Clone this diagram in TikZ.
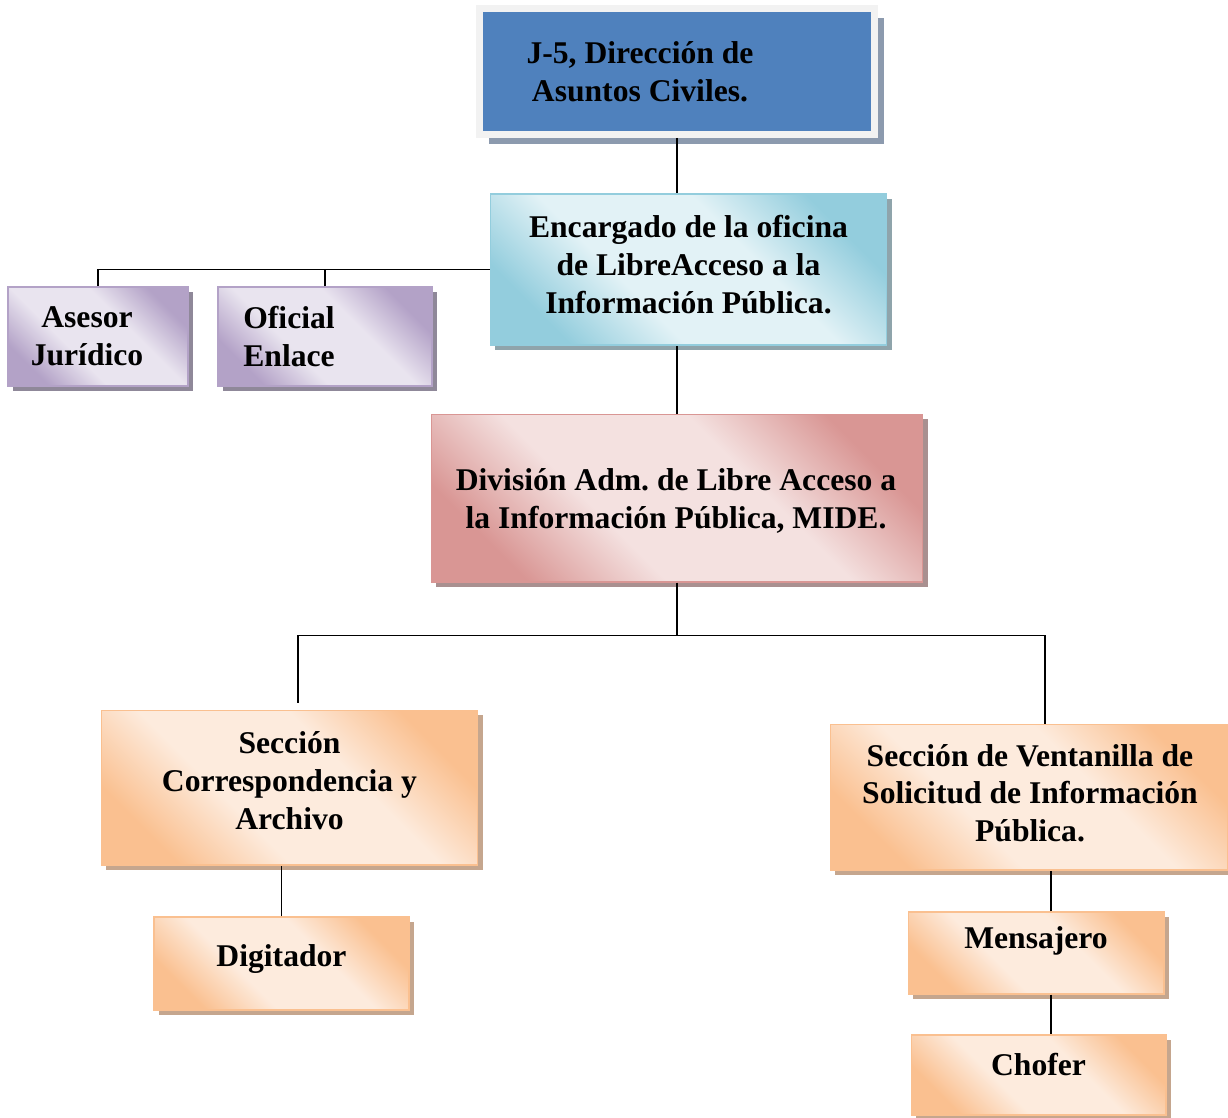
\documentclass[tikz,border=0pt]{standalone}
\usepackage{fontspec}
\setmainfont{Liberation Serif}
\frenchspacing
\usetikzlibrary{shadows}
\definecolor{jblue}{HTML}{4F81BD}
\definecolor{framegray}{HTML}{F2F2F2}
\definecolor{dirshadow}{HTML}{8C9AAE}
\definecolor{encdark}{HTML}{93CDDD}
\definecolor{enclight}{HTML}{E2F2F6}
\definecolor{encshadow}{HTML}{8FA4AB}
\definecolor{purdark}{HTML}{B3A2C7}
\definecolor{purlight}{HTML}{E9E4EF}
\definecolor{purshadow}{HTML}{8F8899}
\definecolor{pinkdark}{HTML}{D99694}
\definecolor{pinklight}{HTML}{F4E1E0}
\definecolor{pinkshadow}{HTML}{A99090}
\definecolor{orgdark}{HTML}{FAC090}
\definecolor{orglight}{HTML}{FDEBDD}
\definecolor{orgshadow}{HTML}{C5A68E}
\colorlet{shdark}{orgdark}
\colorlet{shlight}{orglight}
% soft diagonal fill: dark corners, wide light band
\pgfdeclarehorizontalshading[shdark,shlight]{officefill}{100bp}{
    color(0bp)=(shdark); color(25bp)=(shdark); color(40bp)=(shlight);
    color(60bp)=(shlight); color(75bp)=(shdark); color(100bp)=(shdark)}
\tikzset{
    orgbox/.style n args={3}{
        rectangle, draw=#1, line width=0.6pt, inner sep=0pt,
        /utils/exec={\colorlet{shdark}{#1}\colorlet{shlight}{#2}},
        shade, shading=officefill, shading angle=45,
        drop shadow={shadow xshift=0.1cm, shadow yshift=-0.1cm, fill=#3, opacity=1}
    },
    dirbox/.style={
        rectangle, fill=jblue, draw=framegray, line width=0.14cm, inner sep=0pt,
        drop shadow={shadow xshift=0.19cm, shadow yshift=-0.19cm, fill=dirshadow, opacity=1}
    },
    txt/.style={font=\bfseries\fontsize{18}{21.5}\selectfont, align=center, text=black},
    conn/.style={line width=1pt, black},
}
\begin{document}
\begin{tikzpicture}[x=0.02cm,y=-0.02cm]
\useasboundingbox (0,0) rectangle (1228,1117);
% boxes
\node[dirbox, minimum width=7.9cm, minimum height=2.52cm,
    label={[txt,shift={(-37,0)}]center:{J-5, Dirección de\\Asuntos Civiles.}}] (dir) at (677,71.5) {};
\node[orgbox={encdark}{enclight}{encshadow}, minimum width=7.94cm, minimum height=3.02cm,
    label={[txt,shift={(0,-5)}]center:{Encargado de la oficina\\de LibreAcceso a la\\Información Pública.}}] (enc) at (688.5,269.5) {};
\node[orgbox={purdark}{purlight}{purshadow}, minimum width=3.6cm, minimum height=1.98cm,
    label={[txt,shift={(-11,0)}]center:{Asesor\\Jurídico}}] (ase) at (98,336.5) {};
\node[orgbox={purdark}{purlight}{purshadow}, minimum width=4.28cm, minimum height=1.98cm,
    label={[txt,shift={(-36,0)}]center:{Oficial\\Enlace}}] (ofi) at (325,336.5) {};
\node[orgbox={pinkdark}{pinklight}{pinkshadow}, minimum width=9.84cm, minimum height=3.36cm,
    label={[txt,shift={(-1,3)}]center:{División Adm. de Libre Acceso a\\la Información Pública, MIDE.}}] (div) at (677,498) {};
\node[orgbox={orgdark}{orglight}{orgshadow}, minimum width=7.54cm, minimum height=3.1cm,
    label={[txt,shift={(0,-7)}]center:{Sección\\Correspondencia y\\Archivo}}] (corr) at (289.5,787.5) {};
\node[orgbox={orgdark}{orglight}{orgshadow}, minimum width=5.1cm, minimum height=1.86cm,
    label={[txt,shift={(0,-4)}]center:{Digitador}}] (dig) at (281.5,963.5) {};
\node[orgbox={orgdark}{orglight}{orgshadow}, minimum width=7.96cm, minimum height=2.92cm,
    label={[txt,shift={(1,-4)}]center:{Sección de Ventanilla de\\Solicitud de Información\\Pública.}}] (vent) at (1029,797) {};
\node[orgbox={orgdark}{orglight}{orgshadow}, minimum width=5.12cm, minimum height=1.64cm,
    label={[txt,shift={(0,-12)}]center:{Mensajero}}] (men) at (1036,953) {};
\node[orgbox={orgdark}{orglight}{orgshadow}, minimum width=5.1cm, minimum height=1.6cm,
    label={[txt,shift={(0,-10)}]center:{Chofer}}] (cho) at (1038.5,1075) {};
% connectors
\draw[conn] (dir.south) -- (dir.south |- enc.north);
\draw[conn] (enc.west) -| (ase.north);
\draw[conn] (ofi.north) |- (enc.west);
\draw[conn] (div.north) -- (div.north |- enc.south);
\coordinate (split) at ([yshift=-1.06cm]div.south);
\draw[conn] (div.south) -- (split) -| ([xshift=0.17cm,yshift=0.14cm]corr.north);
\draw[conn] (split) -| ([xshift=0.32cm]vent.north);
\draw[conn] (dig.north) -- (dig.north |- corr.south);
\coordinate (menup) at ([xshift=0.3cm]men.north);
\coordinate (mendn) at ([xshift=0.3cm]men.south);
\draw[conn] (menup) -- (menup |- vent.south);
\draw[conn] (mendn) -- (mendn |- cho.north);
\end{tikzpicture}
\end{document}
